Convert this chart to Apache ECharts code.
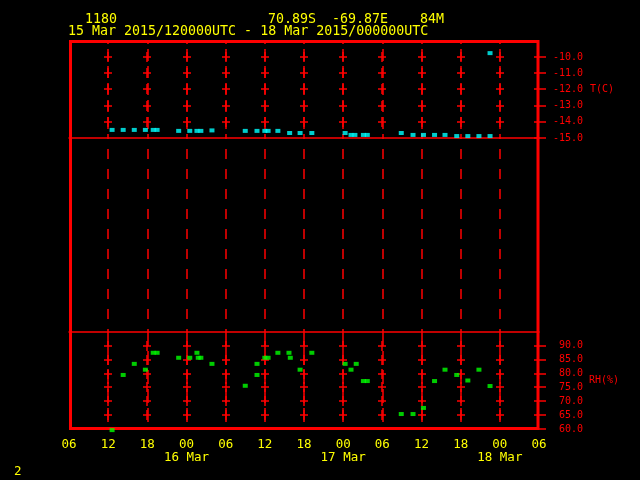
<!DOCTYPE html>
<html><head><meta charset="utf-8">
<script src="https://cdn.jsdelivr.net/npm/echarts@6/dist/echarts.min.js"></script>
<style>html,body{margin:0;padding:0;background:#000}#c{width:640px;height:480px}</style>
</head><body><div id="c"></div>
<script>
// ---- text ----
const stationId = '1180';
const locationText = '70.89S  -69.87E    84M';
const periodText = '15 Mar 2015/120000UTC - 18 Mar 2015/000000UTC';
const pageNumber = '2';
const tAxisName = 'T(C)';
const rhAxisName = 'RH(%)';

// ---- x axis: hours since 15 Mar 2015 00 UTC ----
const hourMin = 6, hourMax = 78, hourStep = 6;
const dayLabels = {24: '16 Mar', 48: '17 Mar', 72: '18 Mar'};
const gridHours = [12, 18, 24, 30, 36, 42, 48, 54, 60, 66, 72];

// ---- y ticks ----
const tMin = -15, tMax = -9;
const tLabelTicks = [-15, -14, -13, -12, -11, -10];
const tCrossTicks = [-14, -13, -12, -11, -10];
const rhMin = 60, rhMax = 95;
const rhLabelTicks = [60, 65, 70, 75, 80, 85, 90];
const rhCrossTicks = [65, 70, 75, 80, 85, 90];

// ---- temperature (C) ----
const tHours = [12.6, 14.3, 16.0, 17.7, 18.9, 19.5, 22.8, 24.5, 25.6, 26.2, 27.9,
  33.0, 34.8, 36.0, 36.5, 38.0, 39.8, 41.4, 43.2, 48.3, 49.2, 49.8, 51.1, 51.7,
  56.9, 58.7, 60.3, 62.0, 63.6, 65.4, 67.1, 68.8, 70.5, 70.5];
const tValues = [-14.5, -14.5, -14.5, -14.5, -14.5, -14.5, -14.56, -14.56, -14.56, -14.56, -14.53,
  -14.56, -14.56, -14.56, -14.56, -14.56, -14.69, -14.69, -14.69, -14.69, -14.81, -14.81, -14.81, -14.81,
  -14.69, -14.81, -14.81, -14.81, -14.81, -14.88, -14.88, -14.88, -14.88, -9.75];

// ---- relative humidity (%) ----
const rhHours = [12.6, 14.3, 16.0, 17.7, 18.9, 19.5, 22.8, 24.5, 25.6, 25.8, 26.2, 27.9,
  33.0, 34.8, 34.8, 36.0, 36.5, 38.0, 39.7, 39.9, 41.4, 43.2, 48.3, 49.2, 50.0, 51.1, 51.7,
  56.9, 58.7, 60.3, 62.0, 63.6, 65.4, 67.1, 68.8, 70.5];
const rhValues = [59.6, 79.5, 83.5, 81.4, 87.5, 87.5, 85.7, 85.7, 87.5, 85.7, 85.7, 83.5,
  75.6, 83.5, 79.5, 85.7, 85.7, 87.5, 87.5, 85.7, 81.4, 87.5, 83.5, 81.4, 83.5, 77.3, 77.3,
  65.4, 65.4, 67.6, 77.3, 81.4, 79.5, 77.5, 81.4, 75.5];

// ---- style ----
const RED = '#ff0000', YEL = '#ffff00', CYAN = '#00ffff', GREEN = '#00ff00';
const MONO = '"DejaVu Sans Mono", "Liberation Mono", monospace';

function crossSeries(axisIdx, crossTicks, edgeTicks) {
  const data = [];
  gridHours.forEach(h => crossTicks.forEach(v => data.push([h, v, 0])));
  edgeTicks.forEach(v => data.push([hourMax, v, 1]));
  return {
    type: 'custom', xAxisIndex: axisIdx, yAxisIndex: axisIdx, clip: false, silent: true, z: 3,
    data: data,
    renderItem: function (params, api) {
      const p = api.coord([api.value(0), api.value(1)]);
      const x = Math.round(p[0]), y = Math.round(p[1]);
      const st = {stroke: RED, lineWidth: 1.5};
      if (api.value(2) === 1) {
        return {type: 'line', shape: {x1: x - 5, y1: y, x2: x + 7, y2: y}, style: st};
      }
      return {type: 'group', children: [
        {type: 'line', shape: {x1: x - 4, y1: y, x2: x + 4, y2: y}, style: st},
        {type: 'line', shape: {x1: x, y1: y - 5, x2: x, y2: y + 5}, style: st}
      ]};
    }
  };
}

function xAxisBase(gi) {
  return {
    type: 'value', gridIndex: gi, min: hourMin, max: hourMax, interval: hourStep,
    axisTick: {show: false}, axisLabel: {show: false},
    axisLine: {show: false}
  };
}

const chart = echarts.init(document.getElementById('c'), null, {renderer: 'canvas'});
chart.setOption({
  backgroundColor: '#000',
  animation: false,
  grid: [
    {left: 69, width: 470, top: 41, height: 97},
    {left: 69, width: 470, top: 138, height: 194},
    {left: 69, width: 470, top: 332, height: 97}
  ],
  xAxis: [
    Object.assign(xAxisBase(0), {
      position: 'bottom',
      axisLine: {show: true, onZero: false, lineStyle: {color: RED, width: 1.5}},
      splitLine: {show: true, showMinLine: false, showMaxLine: false,
        lineStyle: {color: RED, width: 1.5, type: [12, 5], dashOffset: 9}}
    }),
    Object.assign(xAxisBase(1), {
      position: 'bottom',
      axisLine: {show: true, onZero: false, lineStyle: {color: RED, width: 1.5}},
      splitLine: {show: true, showMinLine: false, showMaxLine: false,
        lineStyle: {color: RED, width: 1.5, type: [10, 10], dashOffset: 9}}
    }),
    Object.assign(xAxisBase(2), {
      position: 'bottom',
      splitLine: {show: true, showMinLine: false, showMaxLine: false,
        lineStyle: {color: RED, width: 1.5, type: [14, 5], dashOffset: 0}},
      axisLabel: {
        show: true, interval: 0, showMinLabel: true, showMaxLabel: true,
        color: YEL, fontFamily: MONO, fontSize: 12.5, lineHeight: 13, margin: 9,
        formatter: function (v) {
          const h = ((v % 24) + 24) % 24;
          const s = String(h).padStart(2, '0');
          return dayLabels[v] ? s + '\n' + dayLabels[v] : s;
        }
      }
    })
  ],
  yAxis: [
    {
      type: 'value', gridIndex: 0, position: 'right', min: tMin, max: tMax, interval: 1,
      axisLine: {show: false}, axisTick: {show: false}, splitLine: {show: false},
      axisLabel: {
        color: RED, fontFamily: MONO, fontSize: 10, align: 'right', margin: 44,
        formatter: v => tLabelTicks.indexOf(v) >= 0 ? v.toFixed(1) : ''
      },
      name: tAxisName, nameLocation: 'middle', nameGap: 51, nameRotate: 0,
      nameTextStyle: {color: RED, fontFamily: MONO, fontSize: 10, align: 'left', verticalAlign: 'middle'}
    },
    {type: 'value', gridIndex: 1, min: 0, max: 1, show: false},
    {
      type: 'value', gridIndex: 2, position: 'right', min: rhMin, max: rhMax, interval: 5,
      axisLine: {show: false}, axisTick: {show: false}, splitLine: {show: false},
      axisLabel: {
        color: RED, fontFamily: MONO, fontSize: 10, align: 'right', margin: 44,
        formatter: v => rhLabelTicks.indexOf(v) >= 0 ? v.toFixed(1) : ''
      },
      name: rhAxisName, nameLocation: 'middle', nameGap: 50, nameRotate: 0,
      nameTextStyle: {color: RED, fontFamily: MONO, fontSize: 10, align: 'left', verticalAlign: 'middle'}
    }
  ],
  graphic: [
    {type: 'rect', z: 1, silent: true,
      shape: {x: 70.5, y: 41.5, width: 467.5, height: 387},
      style: {fill: null, stroke: RED, lineWidth: 3}},
    {type: 'text', left: 85, top: 13, silent: true,
      style: {text: stationId, fill: YEL, font: '13.3px ' + MONO}},
    {type: 'text', left: 268, top: 13, silent: true,
      style: {text: locationText, fill: YEL, font: '13.3px ' + MONO}},
    {type: 'text', left: 68, top: 25, silent: true,
      style: {text: periodText, fill: YEL, font: '13.3px ' + MONO}},
    {type: 'text', left: 14, top: 465, silent: true,
      style: {text: pageNumber, fill: YEL, font: '12.5px ' + MONO}}
  ],
  series: [
    crossSeries(0, tCrossTicks, tLabelTicks),
    crossSeries(2, rhCrossTicks, rhLabelTicks),
    {
      type: 'scatter', xAxisIndex: 0, yAxisIndex: 0, clip: false, z: 5,
      symbol: 'rect', symbolSize: [5, 4],
      itemStyle: {color: CYAN},
      data: tHours.map((h, i) => [h, tValues[i]])
    },
    {
      type: 'scatter', xAxisIndex: 2, yAxisIndex: 2, clip: false, z: 5,
      symbol: 'rect', symbolSize: [5, 4],
      itemStyle: {color: GREEN},
      data: rhHours.map((h, i) => [h, rhValues[i]])
    }
  ]
});
</script>
</body></html>
